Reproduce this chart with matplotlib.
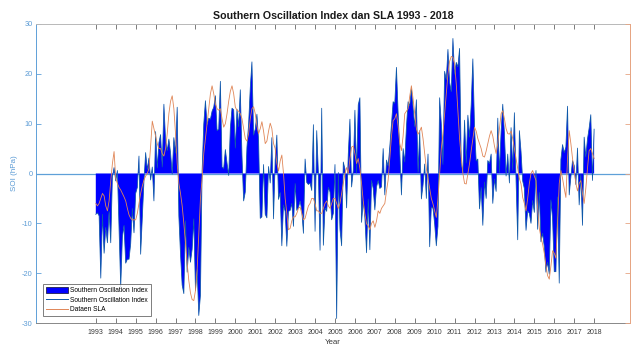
import numpy as np
import matplotlib
matplotlib.use("Agg")
import matplotlib.pyplot as plt
from matplotlib.patches import Patch
from matplotlib.lines import Line2D

plt.rcParams["font.family"] = ["Liberation Sans", "DejaVu Sans"]

# Monthly Southern Oscillation Index (hPa), Jan 1993 - Jan 2018
soi_values = [
    -8.2, -7.9, -8.5, -21.0, -8.2, -16.0, -10.8, -13.9, -7.6, -13.9, -0.7, 1.2,      # 1993
    -1.5, 0.6, -10.8, -22.8, -12.8, -10.4, -18.0, -17.2, -17.2, -14.1, -7.0, -11.9,  # 1994
    -4.0, -2.8, 3.5, -16.2, -9.0, -1.5, 4.2, 0.8, 3.1, -1.3, 1.3, -5.5,              # 1995
    8.4, 1.1, 6.2, 7.8, 1.3, 13.9, 6.8, 4.6, 6.9, 4.2, -0.1, 7.2,                    # 1996
    4.1, 13.3, -8.5, -16.2, -22.4, -24.1, -9.5, -19.8, -14.8, -17.8, -15.2, -9.1,    # 1997
    -23.5, -19.2, -28.5, -24.4, 0.5, 9.9, 14.6, 9.8, 11.1, 10.9, 12.5, 13.3,         # 1998
    15.6, 8.6, 8.9, 18.5, 1.3, 1.0, 4.8, 2.1, -0.4, 9.1, 13.1, 12.8,                 # 1999
    5.1, 12.9, 9.4, 16.8, 3.6, -5.5, -3.7, 5.3, 9.9, 17.2, 22.4, 7.7,                # 2000
    8.9, 11.9, 6.7, -9.0, -8.7, 1.8, -8.2, -8.9, 1.4, -1.9, 7.2, -9.1,               # 2001
    2.7, 7.7, -5.2, -3.8, -14.5, -6.3, -7.6, -14.6, -7.6, -7.4, -6.0, -10.6,         # 2002
    -2.0, -7.4, -6.8, -5.5, -7.4, -12.0, 2.9, -1.8, -2.2, -1.9, -3.4, 9.8,           # 2003
    -11.6, 8.6, 0.2, -15.4, 13.1, -14.4, -6.9, -7.6, -2.8, -3.7, -9.3, -8.0,         # 2004
    1.8, -29.1, 0.2, -11.2, -14.5, 2.3, 0.9, -6.9, 3.9, 10.9, -2.7, 0.6,             # 2005
    12.7, 0.1, 13.8, 15.2, -9.8, -5.5, -8.9, -15.9, -5.1, -15.3, -1.4, -3.0,         # 2006
    -7.3, -2.7, -1.4, -3.0, -2.7, 5.0, -4.3, 2.7, 1.5, 5.4, 9.8, 14.4,               # 2007
    14.1, 21.3, 12.2, 4.5, -4.3, 5.0, 2.3, 9.3, 14.4, 13.6, 17.1, 13.3,              # 2008
    9.4, 14.8, 0.2, 8.6, -5.1, -2.3, 1.9, -5.0, 3.9, -14.7, -6.7, -7.0,              # 2009
    -10.1, -14.5, -10.6, 15.2, 10.0, 1.8, 20.5, 18.8, 24.9, 18.3, 16.4, 27.1,        # 2010
    19.9, 22.3, 21.4, 25.1, 2.1, 0.2, 10.7, 2.1, 11.7, 7.3, 13.8, 23.0,              # 2011
    9.4, 2.5, 2.9, -7.1, -2.8, -10.4, -1.7, -5.0, 2.6, 2.0, 3.9, -6.0,               # 2012
    -1.1, -3.6, 11.1, 0.2, 8.4, 13.9, 8.1, -0.5, 3.9, -1.9, 9.2, 0.6,                # 2013
    12.2, -1.3, -13.3, 8.6, 4.4, -1.5, -3.0, -11.4, -7.5, -8.0, -10.0, -5.4,         # 2014
    -7.8, 0.6, -11.2, -3.8, -13.7, -12.0, -14.7, -19.8, -17.8, -20.2, -5.3, -9.1,    # 2015
    -19.7, -19.7, -4.7, -22.0, 2.8, 5.8, 4.2, 5.3, 13.5, -4.3, -0.7, 2.6,            # 2016
    1.6, -2.2, 5.1, -6.3, -0.2, -10.4, 7.3, 3.3, 6.9, 9.1, 11.8, -1.4,               # 2017
    8.9,                                                                             # 2018
]

# Monthly sea level anomaly series, same months
sla_values = [
    -6.0, -6.5, -6.0, -5.0, -4.0, -4.5, -6.5, -7.5, -5.5, -1.5, 2.0, 4.4,            # 1993
    -1.0, -2.0, -2.8, -3.3, -4.0, -4.7, -5.5, -7.0, -8.3, -9.0, -9.3, -9.3,          # 1994
    -9.3, -8.0, -6.0, -4.0, -2.5, -1.3, -0.5, 0.0, 1.0, 5.5, 10.5, 9.0,              # 1995
    7.5, 6.0, 5.0, 5.0, 4.0, 3.5, 5.0, 8.0, 12.0, 14.5, 15.6, 13.0,                  # 1996
    8.0, 2.0, -2.0, -4.0, -6.5, -10.0, -14.0, -18.0, -21.5, -24.0, -25.3, -25.5,     # 1997
    -23.5, -19.4, -12.0, -5.0, -1.0, 4.0, 7.0, 10.0, 13.0, 16.0, 17.6, 16.0,         # 1998
    14.0, 13.0, 12.7, 13.0, 11.0, 9.3, 10.0, 12.0, 14.5, 16.5, 17.6, 16.0,           # 1999
    13.3, 12.7, 12.5, 12.0, 11.0, 9.0, 7.0, 6.5, 8.0, 11.0, 13.0, 13.4,              # 2000
    12.0, 9.5, 8.0, 9.0, 10.4, 8.5, 6.0, 6.5, 8.5, 10.1, 9.0, 6.0,                   # 2001
    5.0, 2.0, 0.5, 2.5, 3.7, 0.0, -5.0, -8.0, -11.3, -11.0, -9.5, -8.7,              # 2002
    -8.7, -8.0, -7.0, -6.7, -8.0, -9.3, -9.0, -7.7, -6.5, -6.0, -5.0, -5.0,          # 2003
    -6.1, -7.5, -7.5, -8.0, -8.0, -7.0, -6.0, -5.5, -6.5, -7.0, -6.0, -5.0,          # 2004
    -5.0, -6.0, -7.0, -6.0, -4.0, -2.0, 0.0, 1.2, 0.0, 3.0, 5.3, 5.5,                # 2005
    4.0, 2.0, 3.0, 1.0, -2.0, -5.5, -8.1, -10.1, -10.5, -11.3, -10.0, -9.5,          # 2006
    -10.8, -9.5, -7.5, -8.0, -7.0, -6.5, -6.0, -3.5, -1.3, 3.0, 7.5, 10.6,           # 2007
    11.0, 12.0, 9.5, 6.0, 4.6, 7.5, 12.0, 12.5, 13.0, 15.5, 17.6, 15.0,              # 2008
    12.0, 9.0, 7.9, 8.5, 9.3, 7.0, 4.0, 1.0, -1.0, -3.0, -5.0, -6.1,                 # 2009
    -7.5, -8.8, -5.0, 0.0, 5.0, 8.0, 12.0, 16.0, 20.0, 22.5, 23.5, 23.3,             # 2010
    22.0, 18.0, 12.6, 7.0, 3.3, 0.0, -2.0, -2.1, 0.0, 2.0, 4.6, 7.0,                 # 2011
    9.3, 8.5, 7.0, 6.0, 5.0, 3.5, 3.3, 4.5, 6.0, 7.5, 8.6, 7.5,                      # 2012
    5.5, 4.0, 6.0, 9.0, 12.0, 12.6, 11.0, 9.0, 8.0, 7.9, 8.5, 7.0,                   # 2013
    5.0, 3.0, 1.0, -1.0, -2.1, -4.8, -6.0, -7.5, -5.0, -2.0, 0.0, 0.6,               # 2014
    -0.5, -1.4, -7.0, -11.0, -12.8, -14.2, -16.0, -18.5, -20.5, -21.2, -18.5, -15.5, # 2015
    -16.0, -17.0, -10.0, -2.0, 0.6, -1.0, -3.0, -4.8, 3.0, 8.6, 6.0, 3.0,            # 2016
    0.6, -2.0, -3.5, -2.0, -1.4, -4.0, -6.0, -3.0, 1.0, 4.6, 5.0, 4.0,               # 2017
    3.0,                                                                             # 2018
]

start_year = 1993
year_ticks = list(range(1993, 2019))
y_ticks = [-30, -20, -10, 0, 10, 20, 30]
legend_labels = ["Southern Oscillation Index", "Southern Oscillation Index", "Dataen SLA"]

soi = np.array(soi_values)
sla = np.array(sla_values)
t = start_year + np.arange(len(soi)) / 12.0

fig = plt.figure(figsize=(6.37, 3.45), dpi=100)
fig.patch.set_facecolor("white")
ax = fig.add_axes([36 / 637, 22 / 345, 594 / 637, 299 / 345])

axis_blue = "#5fa0d8"
axis_orange = "#e6a583"
sla_color = "#e08657"
soi_line_color = "#0d58a8"

ax.axhline(0, color=axis_blue, lw=0.9, zorder=1)
ax.fill_between(t, soi, 0, facecolor="#0000ff", edgecolor="none", lw=0, zorder=2)
ax.plot(t, soi, color=soi_line_color, lw=0.55, zorder=3)
ax.plot(t, sla, color=sla_color, lw=0.6, zorder=4)

ax.set_xlim(1990, 2019.8)
ax.set_ylim(-30, 30)
ax.set_xticks(year_ticks)
ax.set_xticklabels([str(y) for y in year_ticks])
ax.set_yticks(y_ticks)
ax.set_yticklabels([str(v) for v in y_ticks])

ax.tick_params(axis="x", direction="in", length=3.5, width=0.6, color="#666666",
               labelcolor="#3a3a3a", labelsize=5, pad=4.5, top=True)
ax.tick_params(axis="y", direction="in", length=3.5, width=0.6, color=axis_blue,
               labelcolor="#5b9bd5", labelsize=5.3, pad=2.5, right=False)

ax.spines["left"].set_color(axis_blue)
ax.spines["bottom"].set_color("#888888")
ax.spines["top"].set_color("#b8b8b8")
ax.spines["right"].set_color(axis_orange)
for s in ax.spines.values():
    s.set_linewidth(0.7)

# right-hand axis: same limits, inward ticks only
ax2 = ax.twinx()
ax2.set_ylim(-30, 30)
ax2.set_yticks(y_ticks)
ax2.tick_params(axis="y", direction="in", length=3.5, width=0.6, color=axis_orange,
                labelright=False)
for name in ("left", "top", "bottom"):
    ax2.spines[name].set_visible(False)
ax2.spines["right"].set_color(axis_orange)
ax2.spines["right"].set_linewidth(0.7)

ax.set_title("Southern Oscillation Index dan SLA 1993 - 2018", fontsize=7.7,
             fontweight="bold", color="#1a1a1a", pad=3.5)
ax.set_xlabel("Year", fontsize=5.7, color="#3a3a3a")
ax.xaxis.set_label_coords(0.5, -0.053)
ax.set_ylabel("SOI (hPa)", fontsize=5.8, color="#5b9bd5")
ax.yaxis.set_label_coords(-0.031, 0.5)

handles = [
    Patch(facecolor="#0000ff", edgecolor="#202050", lw=0.6),
    Line2D([], [], color=soi_line_color, lw=0.7),
    Line2D([], [], color=sla_color, lw=0.7),
]
leg = ax.legend(handles, legend_labels, loc="lower left", bbox_to_anchor=(0.012, 0.024),
                borderaxespad=0, fontsize=4.8, frameon=True, fancybox=False,
                handlelength=3.3, handleheight=1.0, handletextpad=0.4,
                labelspacing=0.35, borderpad=0.4)
leg.get_frame().set_edgecolor("#444444")
leg.get_frame().set_linewidth(0.6)
leg.set_zorder(10)

fig.savefig("out.png", dpi=100, facecolor="white")
